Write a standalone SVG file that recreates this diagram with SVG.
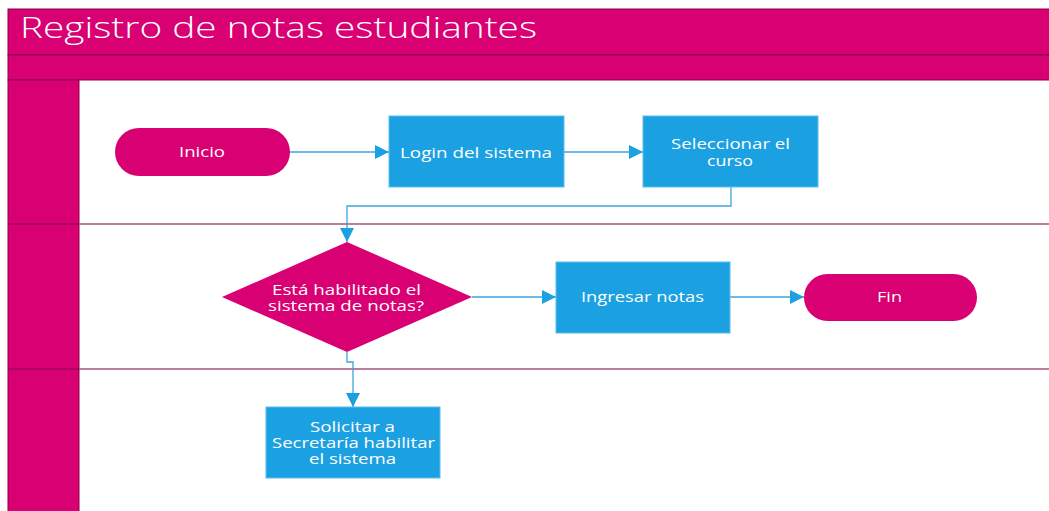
<svg xmlns="http://www.w3.org/2000/svg" width="1049" height="511" viewBox="0 0 1049 511">
<style>
.bar{fill:#d80073;stroke:#8a0048;stroke-width:1}
.lane{stroke:#a5537f;stroke-width:1.5;fill:none}
.term{fill:#d80073}
.proc{fill:#1ba1e2;stroke:#5cbdec;stroke-width:1}
.lbl{font-family:"Open Sans","Noto Sans",sans-serif;font-size:15px;fill:#ffffff;text-anchor:middle}
.title{font-family:"Open Sans","Noto Sans",sans-serif;font-size:29px;fill:#ffffff;font-weight:300}
.con{stroke:#3aa6de;stroke-width:1.3;fill:none}
</style>
<defs>
<marker id="ah" viewBox="0 0 10 10" refX="10" refY="5" markerWidth="14" markerHeight="14" markerUnits="userSpaceOnUse" orient="auto">
<path d="M0,0 L10,5 L0,10 z" fill="#1ba1e2"/>
</marker>
</defs>
<rect x="0" y="0" width="1049" height="511" fill="#ffffff"/>
<g id="pool">
<rect class="bar" x="8" y="9" width="1050" height="46"/>
<rect class="bar" x="8" y="55" width="1050" height="25"/>
<rect class="bar" x="8" y="80" width="71" height="440"/>
<line x1="8" y1="224" x2="79" y2="224" stroke="#8a0048" stroke-width="1"/>
<line x1="8" y1="369" x2="79" y2="369" stroke="#8a0048" stroke-width="1"/>
<line class="lane" x1="79" y1="224" x2="1049" y2="224"/>
<line class="lane" x1="79" y1="369" x2="1049" y2="369"/>
<text class="title" x="20" y="38" textLength="517" lengthAdjust="spacingAndGlyphs">Registro de notas estudiantes</text>
</g>
<g id="connectors">
<line class="con" x1="290" y1="152" x2="389" y2="152" marker-end="url(#ah)"/>
<line class="con" x1="564" y1="152" x2="643" y2="152" marker-end="url(#ah)"/>
<polyline class="con" points="731,187 731,206 347,206 347,242" marker-end="url(#ah)"/>
<line class="con" x1="472" y1="297" x2="556" y2="297" marker-end="url(#ah)"/>
<line class="con" x1="730" y1="297" x2="804" y2="297" marker-end="url(#ah)"/>
<polyline class="con" points="347,352 347,362 353,362 353,407" marker-end="url(#ah)"/>
</g>
<g id="inicio">
<rect class="term" x="115" y="128" width="175" height="48" rx="24"/>
<text class="lbl" x="202" y="157" textLength="46" lengthAdjust="spacingAndGlyphs">Inicio</text>
</g>
<g id="login">
<rect class="proc" x="389" y="116" width="175" height="71"/>
<text class="lbl" x="476" y="157.5" textLength="152" lengthAdjust="spacingAndGlyphs">Login del sistema</text>
</g>
<g id="seleccionar">
<rect class="proc" x="643" y="116" width="175" height="71"/>
<text class="lbl" x="730.5" y="148.5" textLength="119" lengthAdjust="spacingAndGlyphs">Seleccionar el</text>
<text class="lbl" x="730" y="165.5" textLength="46" lengthAdjust="spacingAndGlyphs">curso</text>
</g>
<g id="decision">
<polygon class="term" points="347,242 472,297 347,352 222,297"/>
<text class="lbl" x="346.5" y="294.5" textLength="149" lengthAdjust="spacingAndGlyphs">Está habilitado el</text>
<text class="lbl" x="346" y="310.5" textLength="156" lengthAdjust="spacingAndGlyphs">sistema de notas?</text>
</g>
<g id="ingresar">
<rect class="proc" x="556" y="262" width="174" height="71"/>
<text class="lbl" x="642.5" y="302" textLength="123" lengthAdjust="spacingAndGlyphs">Ingresar notas</text>
</g>
<g id="fin">
<rect class="term" x="804" y="274" width="173" height="47" rx="23.5"/>
<text class="lbl" x="889.5" y="302" textLength="25" lengthAdjust="spacingAndGlyphs">Fin</text>
</g>
<g id="solicitar">
<rect class="proc" x="266" y="407" width="174" height="71"/>
<text class="lbl" x="352.5" y="431.5" textLength="85" lengthAdjust="spacingAndGlyphs">Solicitar a</text>
<text class="lbl" x="353.5" y="447.5" textLength="163" lengthAdjust="spacingAndGlyphs">Secretaría habilitar</text>
<text class="lbl" x="352.5" y="463.5" textLength="87" lengthAdjust="spacingAndGlyphs">el sistema</text>
</g>
</svg>
